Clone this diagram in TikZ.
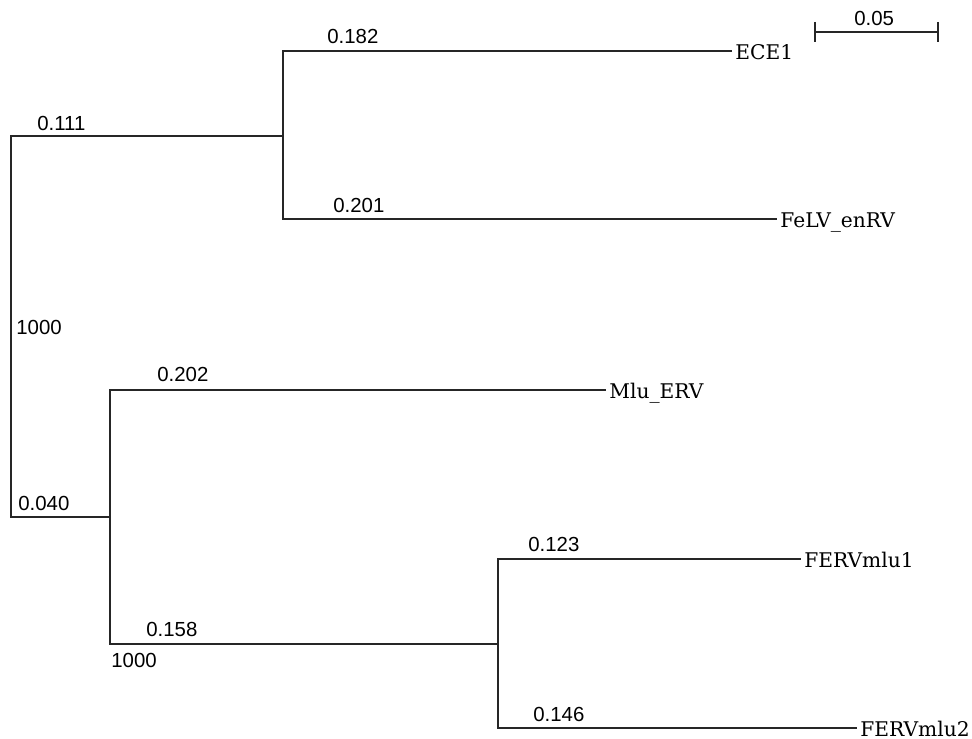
\documentclass[tikz,border=0pt]{standalone}
\usepackage{fontspec}
\setmainfont{DejaVu Serif}
\newfontfamily\brfont{Liberation Sans}

\begin{document}
\begin{tikzpicture}[x=0.2mm,y=-0.2mm,
    branch/.style={line width=1pt,black!85},
    brlen/.style={anchor=base west,inner sep=0pt,font=\brfont\fontsize{11.6}{13}\selectfont},
    leaf/.style={anchor=base west,inner sep=0pt,xshift=0.6mm,yshift=-1.8mm,
      font=\fontsize{11.5}{13}\selectfont}]
       \useasboundingbox (0,0) rectangle (972,739);
       \coordinate (r)     at ( 11,326);
       \coordinate (n1)    at (283,136);
       \coordinate (n2)    at (110,517);
       \coordinate (n3)    at (498,644);
       \coordinate (ece1)  at (732, 51);
       \coordinate (felv)  at (777,219);
       \coordinate (mlu)   at (606,390);
       \coordinate (ferv1) at (801,559);
       \coordinate (ferv2) at (857,728);
       \draw[branch] (r) |- (n1);
       \draw[branch] (r) |- (n2);
       \draw[branch] (n1) |- (ece1);
       \draw[branch] (n1) |- (felv);
       \draw[branch] (n2) |- (mlu);
       \draw[branch] (n2) |- (n3);
       \draw[branch] (n3) |- (ferv1);
       \draw[branch] (n3) |- (ferv2);
       \node[leaf] (ece1lbl)  at (ece1)  {ECE1};
       \node[leaf] (felvlbl)  at (felv)  {FeLV\_enRV};
       \node[leaf] (mlulbl)   at (mlu)   {Mlu\_ERV};
       \node[leaf] (ferv1lbl) at (ferv1) {FERVmlu1};
       \node[leaf] (ferv2lbl) at (ferv2) {FERVmlu2};
       \node[brlen] (l111) at ( 37,131) {0.111};
       \node[brlen] (l182) at (327, 44) {0.182};
       \node[brlen] (l201) at (333,213) {0.201};
       \node[brlen] (b1)   at ( 16,335) {1000};
       \node[brlen] (l202) at (157,382) {0.202};
       \node[brlen] (l040) at ( 18,511) {0.040};
       \node[brlen] (l123) at (528,552) {0.123};
       \node[brlen] (l158) at (146,637) {0.158};
       \node[brlen] (b2)   at (111,668) {1000};
       \node[brlen] (l146) at (533,722) {0.146};
       \coordinate (sbl) at (815,32);
       \coordinate (sbr) at (938,32);
       \draw[branch] (sbl) -- (sbr);
       \draw[branch] ([yshift=2mm]sbl) -- ([yshift=-2mm]sbl);
       \draw[branch] ([yshift=2mm]sbr) -- ([yshift=-2mm]sbr);
       \node[brlen] (sblbl) at (854,26) {0.05};
      \end{tikzpicture}
\end{document}
